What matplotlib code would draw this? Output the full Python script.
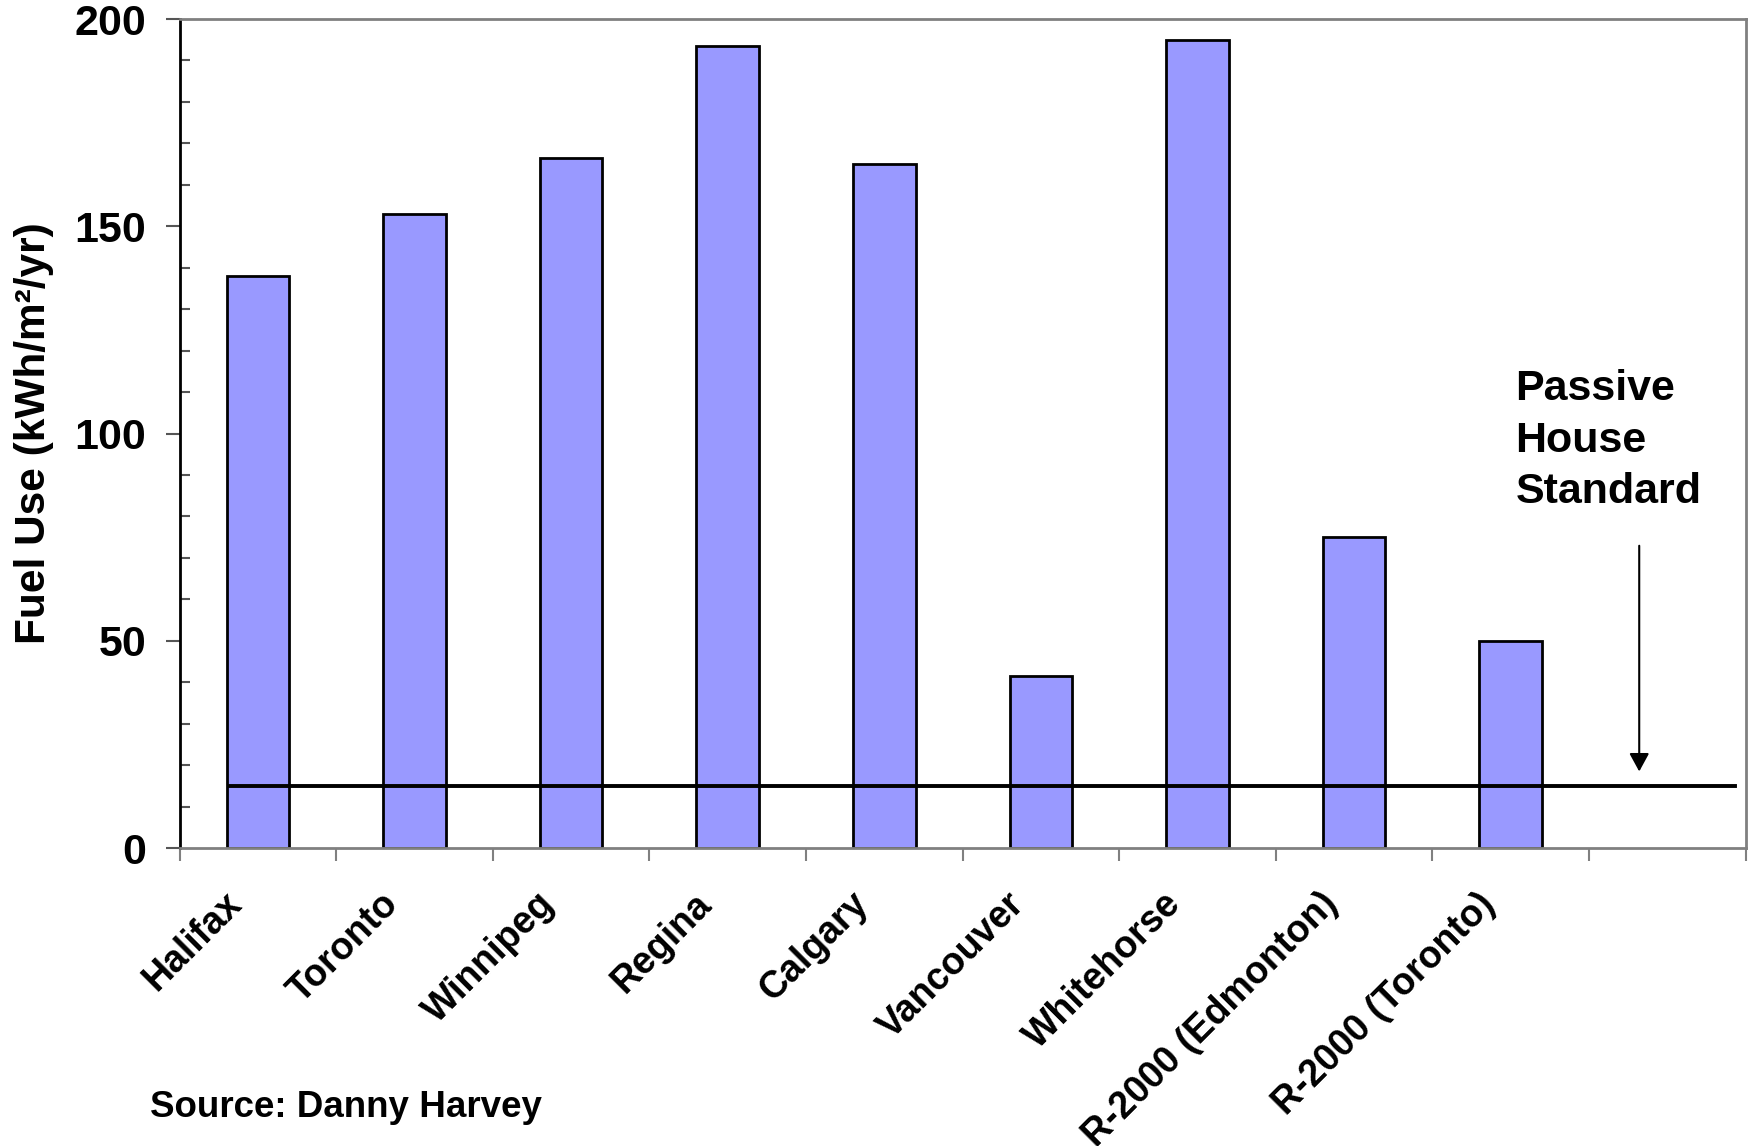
import numpy as np
import matplotlib.pyplot as plt
from matplotlib.transforms import ScaledTranslation

plt.rcParams['font.family'] = ['Liberation Sans', 'DejaVu Sans']
plt.rcParams['font.weight'] = 'bold'

# heating fuel use by location
cities = ['Halifax', 'Toronto', 'Winnipeg', 'Regina', 'Calgary', 'Vancouver',
          'Whitehorse', 'R-2000 (Edmonton)', 'R-2000 (Toronto)']
fuel_use = [138, 153, 166.5, 193.5, 165, 41.5, 195, 75, 50]
passive_house = 15
n_slots = 10   # last slot is left empty for the annotation

fig = plt.figure(figsize=(17.48, 11.46), dpi=100)
ax = fig.add_axes([0.1027, 0.26, 0.896, 0.7234])

x = np.arange(len(cities))
ax.bar(x, fuel_use, width=0.4, color='#9999FF', edgecolor='black', linewidth=2, zorder=2)

# passive house standard line and arrow
ax.plot([-0.18, 9.43], [passive_house, passive_house], color='black', lw=2.8, zorder=3)
ax.annotate('', xy=(8.82, 17.8), xytext=(8.82, 73.6),
            arrowprops=dict(arrowstyle='-|>,head_length=1.1,head_width=0.6', color='black', lw=1.5))
ax.text(8.03, 115.6, 'Passive\nHouse\nStandard', fontsize=31, fontweight='bold',
        va='top', ha='left', linespacing=1.38)

ax.set_xlim(-0.5, n_slots - 0.5)
ax.set_ylim(0, 200)

# y axis
ax.set_yticks(np.arange(0, 201, 50))
ax.set_yticks(np.arange(0, 201, 10), minor=True)
ax.tick_params(axis='y', which='major', direction='out', length=10, width=1.5,
               labelsize=31, pad=14, color='#555555')
ax.tick_params(axis='y', which='minor', direction='in', length=7, width=1.5, color='#555555')
ax.set_ylabel('Fuel Use (kWh/m²/yr)', fontsize=30.5, fontweight='bold')
ax.yaxis.set_label_coords(-0.080, 0.5)

# x axis: labels at centres, ticks at category boundaries
ax.set_xticks(x)
ax.set_xticklabels(cities, rotation=45, ha='right', va='bottom', rotation_mode='anchor', fontsize=27)
ax.set_xticks(np.arange(-0.5, n_slots, 1), minor=True)
ax.tick_params(axis='x', which='major', length=0, pad=45.5)
ax.tick_params(axis='x', which='minor', direction='out', length=9, width=1.5, color='#808080')
shift = ScaledTranslation(-0.09, 0, fig.dpi_scale_trans)
for lbl in ax.get_xticklabels():
    lbl.set_transform(lbl.get_transform() + shift)

for s in ['top', 'right', 'bottom']:
    ax.spines[s].set_color('#808080')
    ax.spines[s].set_linewidth(2)
ax.spines['left'].set_color('black')
ax.spines['left'].set_linewidth(2)

fig.text(0.086, 0.034, 'Source: Danny Harvey', fontsize=26.5, fontweight='bold', ha='left', va='center')

fig.savefig('out.png', dpi=100)
